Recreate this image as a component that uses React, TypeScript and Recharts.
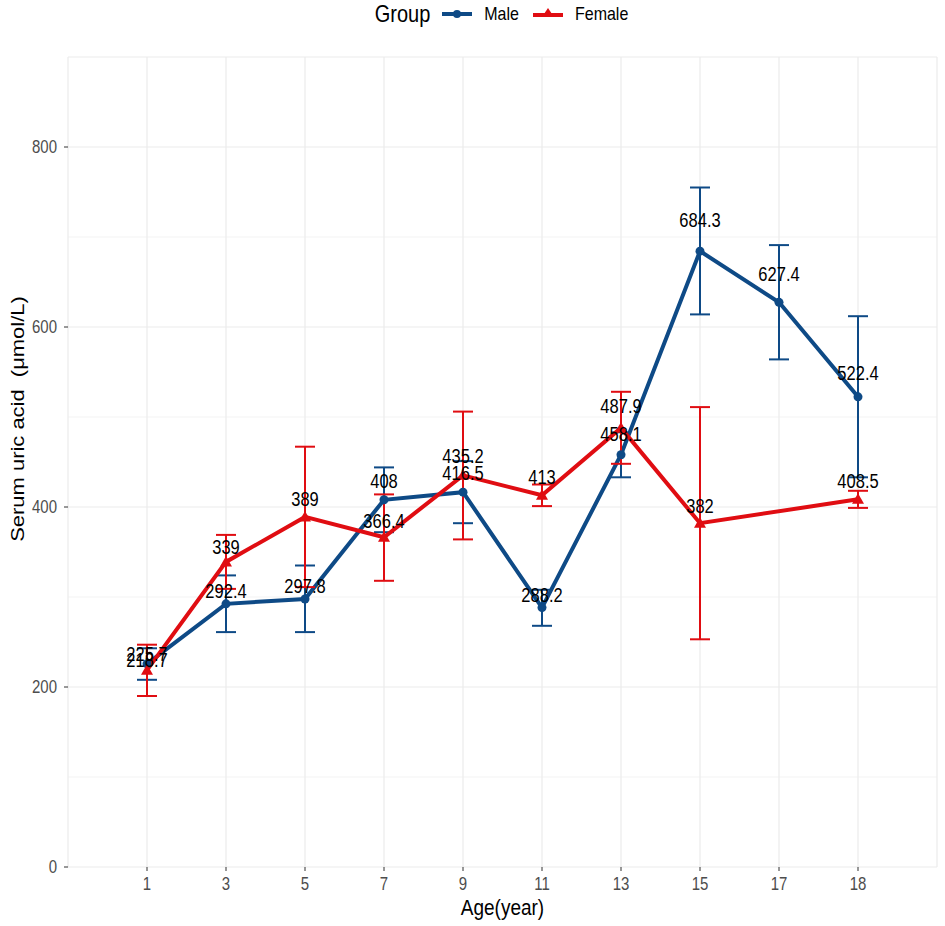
import React from "react";
import {
  LineChart,
  Line,
  XAxis,
  YAxis,
  CartesianGrid,
  ErrorBar,
  LabelList,
  Label,
} from "recharts";

const AGES = ["1", "3", "5", "7", "9", "11", "13", "15", "17", "18"];

const MALE = [225.7, 292.4, 297.8, 408, 416.5, 288.2, 458.1, 684.3, 627.4, 522.4];
const MALE_LOW = [208, 261, 261, 372, 382, 268, 433, 614, 564, 433];
const MALE_HIGH = [243, 324, 335, 444, 451, 308, 483, 755, 691, 612];

const FEMALE = [218.7, 339, 389, 366.4, 435.2, 413, 487.9, 382, null, 408.5];
const FEMALE_LOW = [190, 309, 311, 318, 364, 401, 448, 253, null, 399];
const FEMALE_HIGH = [247, 369, 467, 414, 506, 425, 528, 511, null, 418];

const Y_TICKS = [0, 200, 400, 600, 800];
const Y_MINOR = [100, 300, 500, 700];

const BLUE = "#0e4a86";
const RED = "#e00d12";
const FONT = "'Liberation Sans', Arial, sans-serif";
// the reference image is a bit stretched vertically, so its text looks tall
const STRETCH = 1.2;

// labels sit 5% above the mean, like the original plot
const data = AGES.map((age, i) => ({
  age,
  male: MALE[i],
  maleErr: [MALE[i] - MALE_LOW[i], MALE_HIGH[i] - MALE[i]],
  maleLab: MALE[i] * 1.05,
  female: FEMALE[i],
  femaleErr:
    FEMALE[i] == null ? null : [FEMALE[i]! - FEMALE_LOW[i]!, FEMALE_HIGH[i]! - FEMALE[i]!],
  femaleLab: FEMALE[i] == null ? null : FEMALE[i]! * 1.05,
}));

function Triangle(props: any) {
  const { cx, cy, fill, key } = props;
  if (cx == null || cy == null) return <g key={key} />;
  const s = 6;
  return (
    <polygon
      key={key}
      points={`${cx},${cy - s} ${cx - s},${cy + s * 0.75} ${cx + s},${cy + s * 0.75}`}
      fill={fill}
    />
  );
}

function TallText({ x, y, anchor, size, fill, dy, children }: any) {
  return (
    <g transform={`translate(${x},${y}) scale(1,${STRETCH})`}>
      <text x={0} y={0} dy={dy} textAnchor={anchor} fontSize={size} fontFamily={FONT} fill={fill}>
        {children}
      </text>
    </g>
  );
}

function ValueLabel(props: any) {
  const x = props.x ?? props.viewBox?.x;
  const y = props.y ?? props.viewBox?.y;
  if (props.value == null || x == null || y == null) return null;
  return (
    <TallText x={x} y={y} anchor="middle" size={16.5} fill="#000" dy="0.35em">
      {props.value}
    </TallText>
  );
}

function XTick(props: any) {
  const { x, y, payload } = props;
  return (
    <TallText x={x} y={y} anchor="middle" size={15} fill="#4d4d4d" dy="0.71em">
      {payload.value}
    </TallText>
  );
}

function YTick(props: any) {
  const { x, y, payload } = props;
  return (
    <TallText x={x} y={y} anchor="end" size={15} fill="#4d4d4d" dy="0.355em">
      {payload.value}
    </TallText>
  );
}

const tall: React.CSSProperties = {
  display: "inline-block",
  transform: `scaleY(${STRETCH})`,
};

function LegendBar() {
  return (
    <div
      style={{
        position: "absolute",
        top: 0,
        left: 0,
        width: 945,
        height: 28,
        display: "flex",
        alignItems: "center",
        justifyContent: "center",
        fontFamily: FONT,
        color: "#000",
        paddingLeft: 58,
        boxSizing: "border-box",
      }}
    >
      <span style={{ ...tall, fontSize: 20, marginRight: 12 }}>Group</span>
      <svg width={30} height={14} style={{ marginRight: 12 }}>
        <line x1={0} y1={7} x2={30} y2={7} stroke={BLUE} strokeWidth={4} />
        <circle cx={15} cy={7} r={4} fill={BLUE} />
      </svg>
      <span style={{ ...tall, fontSize: 16, marginRight: 14 }}>Male</span>
      <svg width={30} height={14} style={{ marginRight: 12 }}>
        <line x1={0} y1={8} x2={30} y2={8} stroke={RED} strokeWidth={4} />
        <polygon points="15,1 9,10 21,10" fill={RED} />
      </svg>
      <span style={{ ...tall, fontSize: 16 }}>Female</span>
    </div>
  );
}

export default function App() {
  return (
    <div style={{ position: "absolute", left: 0, top: 0, width: 945, height: 926, background: "#fff" }}>
      <LegendBar />
      <LineChart
        width={945}
        height={926}
        data={data}
        margin={{ top: 57, right: 8, bottom: 0, left: 0 }}
      >
        <CartesianGrid stroke="#ebebeb" strokeWidth={0.6} vertical={false} horizontalValues={Y_MINOR} />
        <CartesianGrid stroke="#ebebeb" strokeWidth={1.2} />
        <XAxis
          dataKey="age"
          type="category"
          padding={{ left: 79, right: 79 }}
          height={59}
          axisLine={false}
          tickLine={{ stroke: "#333", strokeWidth: 1 }}
          tickSize={4}
          tickMargin={6}
          tick={<XTick />}
          interval={0}
        >
          <Label
            content={({ viewBox }: any) => (
              <TallText
                x={viewBox.x + viewBox.width / 2}
                y={viewBox.y + 48}
                anchor="middle"
                size={19}
                fill="#000"
                dy={0}
              >
                Age(year)
              </TallText>
            )}
          />
        </XAxis>
        <YAxis
          type="number"
          domain={[0, 900]}
          ticks={Y_TICKS}
          width={68}
          axisLine={false}
          tickLine={{ stroke: "#333", strokeWidth: 1 }}
          tickSize={4}
          tickMargin={7}
          tick={<YTick />}
          allowDataOverflow
        >
          <Label
            content={({ viewBox }: any) => {
              const cx = viewBox.x + 18;
              const cy = 419;
              return (
                <g transform={`translate(${cx},${cy}) rotate(-90) scale(${STRETCH + 0.02},1)`}>
                  <text
                    x={0}
                    y={0}
                    textAnchor="middle"
                    dominantBaseline="central"
                    fontSize={18}
                    fontFamily={FONT}
                    fill="#000"
                    style={{ whiteSpace: "pre" }}
                  >
                    {"Serum uric acid  (μmol/L)"}
                  </text>
                </g>
              );
            }}
          />
        </YAxis>

        <Line
          dataKey="male"
          stroke={BLUE}
          strokeWidth={4}
          dot={{ r: 4.5, fill: BLUE, stroke: "none" }}
          activeDot={false}
          isAnimationActive={false}
        >
          <ErrorBar dataKey="maleErr" direction="y" width={10} stroke={BLUE} strokeWidth={2} />
        </Line>
        <Line
          dataKey="female"
          stroke={RED}
          strokeWidth={4}
          connectNulls
          dot={(p: any) => <Triangle {...p} fill={RED} />}
          activeDot={false}
          isAnimationActive={false}
        >
          <ErrorBar dataKey="femaleErr" direction="y" width={10} stroke={RED} strokeWidth={2} />
        </Line>

        <Line
          dataKey="maleLab"
          stroke="none"
          dot={false}
          activeDot={false}
          isAnimationActive={false}
        >
          <LabelList dataKey="male" content={ValueLabel} />
        </Line>
        <Line
          dataKey="femaleLab"
          stroke="none"
          dot={false}
          activeDot={false}
          isAnimationActive={false}
        >
          <LabelList dataKey="female" content={ValueLabel} />
        </Line>
      </LineChart>
    </div>
  );
}
